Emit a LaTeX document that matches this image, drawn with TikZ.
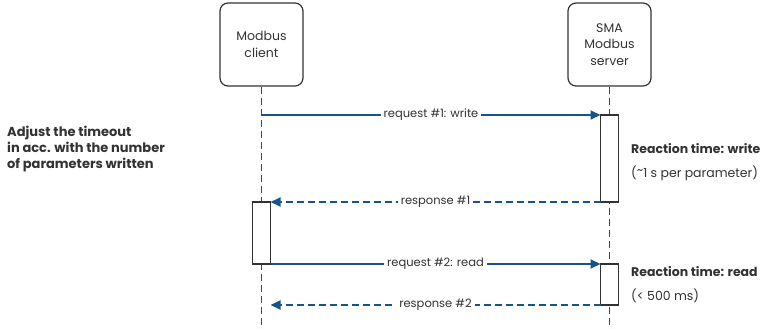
\documentclass[tikz,border=0pt]{standalone}
\usepackage{fontspec}
\setmainfont{Poppins}
\usetikzlibrary{arrows.meta}
\definecolor{sblue}{RGB}{22,84,140}
\definecolor{sgray}{RGB}{50,50,50}
\tikzset{
  actor/.style={draw=sgray, line width=1.2pt, rounded corners=8pt, minimum width=83pt, minimum height=83pt, align=center, font=\fontsize{12.5}{16.5}\selectfont, text=sgray, inner sep=0pt},
  lifeline/.style={draw=sblue, line width=1.8pt, dash pattern=on 7pt off 4pt},
  act/.style={draw=sgray, line width=1.2pt, fill=white},
  req/.style={draw=sblue, line width=1.8pt, -{Triangle[length=10pt,width=9pt]}},
  resp/.style={draw=sblue, line width=1.8pt, dash pattern=on 7pt off 4pt, -{Triangle[length=10pt,width=9pt]}},
  lbl/.style={fill=white, text=sgray, font=\fontsize{11.5}{13}\selectfont, inner xsep=3pt, inner ysep=1pt},
  note/.style={text=sgray, anchor=west, align=left, inner sep=0pt},
}
\begin{document}
\begin{tikzpicture}[x=1pt,y=-1pt]
\useasboundingbox (0,0) rectangle (768,329);
\node[actor] (client) at (261.5,44.5) {Modbus\\client};
\node[actor] (server) at (609.5,44.5) {SMA\\Modbus\\server};
\coordinate (cend) at (261.5,329);
\coordinate (send) at (609.5,329);
\draw[lifeline] (client.south) -- (cend);
\draw[lifeline] (server.south) -- (send);
% activation boxes
\draw[act] (600.5,115) rectangle (618.5,202);
\draw[act] (252.5,202) rectangle (270.5,264);
\draw[act] (600.5,264) rectangle (618.5,305);
\coordinate (s1t) at (600.5,115);
\coordinate (s1b) at (600.5,202);
\coordinate (c1t) at (270.5,202);
\coordinate (c1b) at (270.5,264);
\coordinate (s2t) at (600.5,264);
\coordinate (s2b) at (600.5,305);
\coordinate (c0) at (261.5,115);
\coordinate (c2) at (270.5,305);
\draw[req] (c0) -- node[lbl]{request \#1: write} (s1t);
\draw[resp] (s1b) -- node[lbl]{response \#1} (c1t);
\draw[req] (c1b) -- node[lbl]{request \#2: read} (s2t);
\draw[resp] (s2b) -- node[lbl]{response \#2} (c2);
% notes
\node[note, font=\bfseries\fontsize{13}{16}\selectfont] (adj) at (7,149) {Adjust the timeout\\in acc. with the number\\of parameters written};
\node[note, font=\bfseries\fontsize{12.5}{14}\selectfont] (rtw) at (631,149) {Reaction time: write};
\node[note, font=\fontsize{12.5}{14}\selectfont] (rtwv) at (631,173) {(\raisebox{0.25em}{\textasciitilde}1 s per parameter)};
\node[note, font=\bfseries\fontsize{12.5}{14}\selectfont] (rtr) at (631,272) {Reaction time: read};
\node[note, font=\fontsize{12.5}{14}\selectfont] (rtrv) at (631,296) {(< 500 ms)};
\end{tikzpicture}
\end{document}
